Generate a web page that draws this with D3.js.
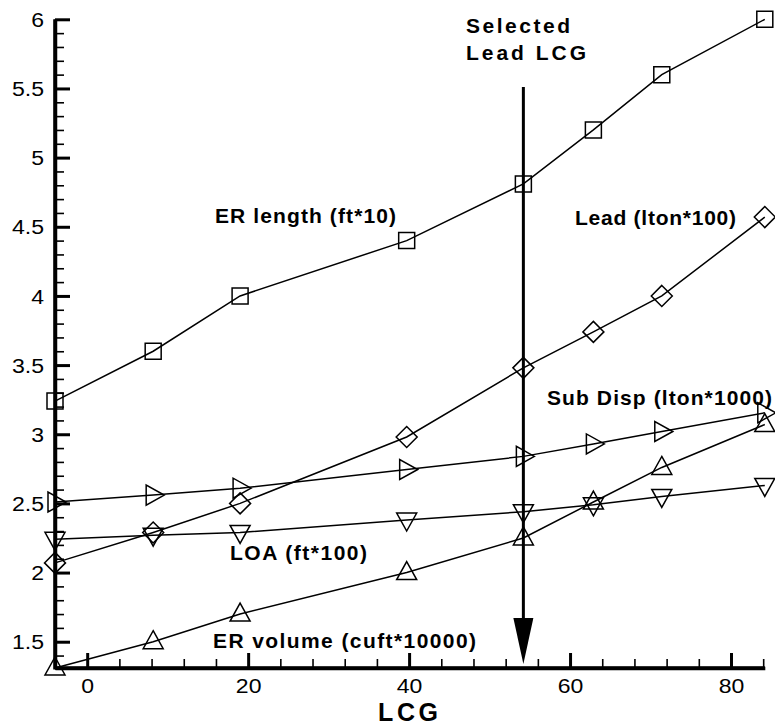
<!DOCTYPE html>
<html><head><meta charset="utf-8">
<script src="https://cdn.jsdelivr.net/npm/d3@7"></script>
<style>body{margin:0;background:#fff}svg{display:block}</style>
</head><body>
<script>
const lcg = [-4, 8.2, 19, 39.7, 54.2, 62.9, 71.4, 84.2];
const erLength = [3.24, 3.6, 4.0, 4.4, 4.81, 5.2, 5.6, 6.0];
const lead = [2.07, 2.29, 2.5, 2.98, 3.48, 3.74, 4.0, 4.57];
const subDisp = [2.51, 2.56, 2.61, 2.745, 2.84, 2.93, 3.02, 3.155];
const loa = [2.24, 2.27, 2.29, 2.38, 2.44, 2.49, 2.55, 2.63];
const erVolume = [1.31, 1.5, 1.7, 2.0, 2.25, 2.51, 2.76, 3.07];
const selectedLCG = 54.2;
const xMajorTicks = [0, 20, 40, 60, 80];
const xTickLabels = ["0", "20", "40", "60", "80"];
const yMajorTicks = [1.5, 2, 2.5, 3, 3.5, 4, 4.5, 5, 5.5, 6];
const yTickLabels = ["1.5", "2", "2.5", "3", "3.5", "4", "4.5", "5", "5.5", "6"];
const seriesNames = ["ER length (ft*10)", "Lead (lton*100)", "Sub Disp (lton*1000)", "LOA (ft*100)", "ER volume (cuft*10000)"];

const W = 775, H = 727;
const svg = d3.select("body").append("svg").attr("width", W).attr("height", H);
const x = d3.scaleLinear().domain([-4, 84.2]).range([55, 764.8]);
const y = d3.scaleLinear().domain([1.31, 6]).range([668, 19.3]);

const xMinor = d3.range(-4, 84.01, 4).filter(v => !xMajorTicks.includes(v));
const yMinor = d3.range(14, 60.01, 1).map(v => v / 10).filter(v => !yMajorTicks.some(t => Math.abs(t - v) < 1e-6));

// tick label width (wide digits as in the reference)
const tickW = s => s.replace(/\./g, "").length * 12.8 + (s.split(".").length - 1) * 6.5;

// minor ticks
svg.append("g").attr("transform", `translate(0,${y.range()[0]})`)
  .call(d3.axisBottom(x).tickValues(xMinor).tickSizeInner(-9).tickSizeOuter(0).tickFormat(""))
  .call(g => g.select(".domain").remove())
  .call(g => g.selectAll("line").attr("stroke-width", 1.6));
svg.append("g").attr("transform", `translate(${x.range()[0]},0)`)
  .call(d3.axisLeft(y).tickValues(yMinor).tickSizeInner(-9).tickSizeOuter(0).tickFormat(""))
  .call(g => g.select(".domain").remove())
  .call(g => g.selectAll("line").attr("stroke-width", 1.6));

// major axes
const fontTick = "'Liberation Sans', Arial, sans-serif";
svg.append("g").attr("transform", `translate(0,${y.range()[0]})`)
  .call(d3.axisBottom(x).tickValues(xMajorTicks).tickSizeInner(-15).tickSizeOuter(0).tickPadding(11)
    .tickFormat((d, i) => xTickLabels[i]))
  .call(g => g.select(".domain").attr("stroke-width", 3.5))
  .call(g => g.selectAll("line").attr("stroke-width", 3))
  .call(g => g.selectAll("text").attr("font-size", 20).attr("font-family", fontTick).attr("fill", "#000")
    .attr("textLength", function () { return tickW(this.textContent); }).attr("lengthAdjust", "spacingAndGlyphs"));
svg.append("g").attr("transform", `translate(${x.range()[0]},0)`)
  .call(d3.axisLeft(y).tickValues(yMajorTicks).tickSizeInner(-15).tickSizeOuter(0).tickPadding(11)
    .tickFormat((d, i) => yTickLabels[i]))
  .call(g => g.select(".domain").attr("stroke-width", 3.5))
  .call(g => g.selectAll("line").attr("stroke-width", 3))
  .call(g => g.selectAll("text").attr("font-size", 20).attr("font-family", fontTick).attr("fill", "#000").attr("dy", "0.36em")
    .attr("textLength", function () { return tickW(this.textContent); }).attr("lengthAdjust", "spacingAndGlyphs"));

// extend axis lines to corner
svg.append("line").attr("x1", x.range()[0]).attr("x2", x.range()[1]).attr("y1", y.range()[0]).attr("y2", y.range()[0])
  .attr("stroke", "#000").attr("stroke-width", 3.5);
svg.append("line").attr("x1", x.range()[0]).attr("x2", x.range()[0]).attr("y1", y.range()[0] + 1.5).attr("y2", y.range()[1])
  .attr("stroke", "#000").attr("stroke-width", 3.5);

// series
const line = d3.line().x(d => x(d[0])).y(d => y(d[1]));
const series = [
  {vals: erLength, shape: "square"},
  {vals: lead, shape: "diamond"},
  {vals: subDisp, shape: "right"},
  {vals: loa, shape: "down"},
  {vals: erVolume, shape: "up"}
];
function markerPath(shape) {
  switch (shape) {
    case "square": return "M-8,-8H8V8H-8Z";
    case "diamond": return "M0,-10.5L10.5,0L0,10.5L-10.5,0Z";
    case "up": return "M0,-11L10,7L-10,7Z";
    case "down": return "M0,11L10,-7L-10,-7Z";
    case "right": return "M11,0L-7,10L-7,-10Z";
  }
}
series.forEach(s => {
  const pts = lcg.map((v, i) => [v, s.vals[i]]);
  svg.append("path").datum(pts).attr("d", line).attr("fill", "none").attr("stroke", "#000").attr("stroke-width", 1.5);
  svg.append("g").selectAll("path").data(pts).join("path")
    .attr("transform", d => `translate(${x(d[0])},${y(d[1])})`)
    .attr("d", markerPath(s.shape)).attr("fill", "none").attr("stroke", "#000").attr("stroke-width", 1.5);
});

// arrow
const ax = x(selectedLCG);
svg.append("line").attr("x1", ax).attr("x2", ax).attr("y1", 87).attr("y2", 625).attr("stroke", "#000").attr("stroke-width", 3);
svg.append("path").attr("d", `M${ax - 10},618L${ax + 10},618L${ax},664Z`).attr("fill", "#000");

// labels
const fontLbl = "'Liberation Sans', Arial, sans-serif";
const labels = [
  {t: seriesNames[0], x: 215, y: 223, w: 181},
  {t: seriesNames[1], x: 575, y: 225, w: 161},
  {t: seriesNames[2], x: 547, y: 405, w: 225},
  {t: seriesNames[3], x: 230, y: 560, w: 137},
  {t: seriesNames[4], x: 213, y: 648, w: 263},
  {t: "Selected", x: 466, y: 33, w: 104},
  {t: "Lead LCG", x: 466, y: 60, w: 120}
];
svg.append("g").selectAll("text").data(labels).join("text")
  .attr("x", d => d.x).attr("y", d => d.y).text(d => d.t)
  .attr("textLength", d => d.w).attr("lengthAdjust", "spacing")
  .attr("font-family", fontLbl).attr("font-weight", "bold").attr("font-size", 21);
svg.append("text").attr("x", 408).attr("y", 721).attr("text-anchor", "middle").text("LCG")
  .attr("textLength", 60).attr("lengthAdjust", "spacing")
  .attr("font-family", fontLbl).attr("font-weight", "bold").attr("font-size", 25);
</script>
</body></html>
